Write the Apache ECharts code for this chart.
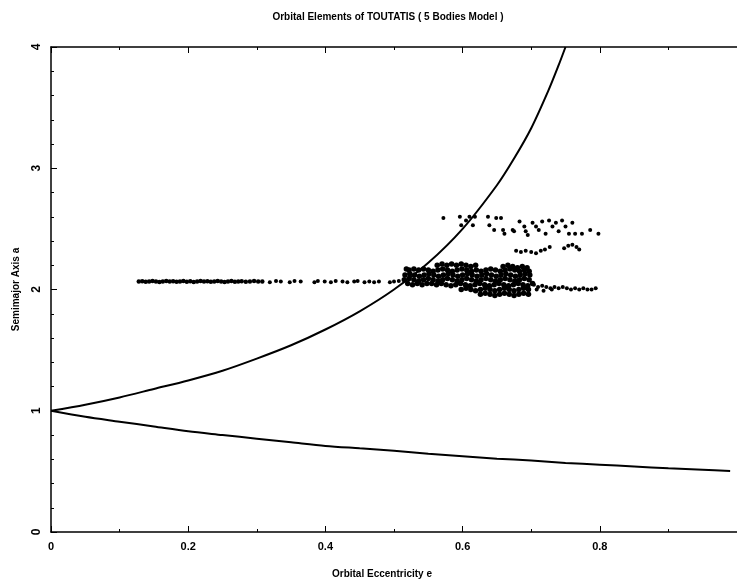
<!DOCTYPE html>
<html>
<head>
<meta charset="utf-8">
<script src="https://cdn.jsdelivr.net/npm/echarts@6/dist/echarts.min.js"></script>
<style>
  html, body { margin: 0; padding: 0; background: #fff; }
  #chart { width: 737px; height: 585px; }
</style>
</head>
<body>
<div id="chart"></div>
<script>
// bounding curves (e, a)
const upperE = [0, 0.05, 0.1, 0.15, 0.2, 0.25, 0.3, 0.35, 0.4, 0.45, 0.5, 0.55, 0.6, 0.65, 0.675, 0.7, 0.725, 0.74, 0.75]
const upperA = [1, 1.05, 1.11, 1.18, 1.25, 1.33, 1.43, 1.54, 1.67, 1.82, 2.0, 2.22, 2.5, 2.86, 3.08, 3.33, 3.64, 3.85, 4.0]
const lowerE = [0, 0.05, 0.1, 0.15, 0.2, 0.25, 0.3, 0.35, 0.4, 0.45, 0.5, 0.55, 0.6, 0.65, 0.7, 0.75, 0.8, 0.85, 0.9, 0.95, 0.99]
const lowerA = [1, 0.95, 0.91, 0.87, 0.83, 0.8, 0.77, 0.74, 0.71, 0.69, 0.67, 0.645, 0.625, 0.605, 0.59, 0.57, 0.555, 0.54, 0.525, 0.513, 0.503]

// integrated orbit samples [e, a]
const flatBand = [
  [0.128, 2.065], [0.133, 2.068], [0.138, 2.063], [0.143, 2.066], [0.148, 2.07], [0.153, 2.065],
  [0.158, 2.062], [0.163, 2.067], [0.168, 2.07], [0.173, 2.065], [0.178, 2.068], [0.183, 2.063],
  [0.188, 2.066], [0.193, 2.07], [0.198, 2.064], [0.203, 2.068], [0.208, 2.062], [0.213, 2.066],
  [0.218, 2.07], [0.223, 2.065], [0.228, 2.068], [0.233, 2.063], [0.238, 2.066], [0.243, 2.07],
  [0.248, 2.065], [0.253, 2.062], [0.258, 2.067], [0.263, 2.07], [0.268, 2.064], [0.273, 2.066],
  [0.278, 2.068], [0.284, 2.063], [0.29, 2.066], [0.296, 2.07], [0.302, 2.065], [0.308, 2.067],
]
const sparseDots = [
  [0.319, 2.06], [0.328, 2.07], [0.335, 2.065], [0.348, 2.06], [0.355, 2.07], [0.364, 2.065],
  [0.384, 2.06], [0.389, 2.07], [0.399, 2.065], [0.408, 2.06], [0.415, 2.07], [0.425, 2.065],
  [0.432, 2.06], [0.442, 2.065], [0.447, 2.07], [0.457, 2.06], [0.464, 2.065], [0.471, 2.06],
  [0.478, 2.065], [0.494, 2.06], [0.5, 2.065], [0.507, 2.07],
]
const band220 = [
  [0.563, 2.2], [0.57, 2.21], [0.577, 2.2], [0.584, 2.21], [0.591, 2.2], [0.598, 2.21], [0.605, 2.2],
  [0.612, 2.19], [0.619, 2.2], [0.659, 2.19], [0.666, 2.2], [0.673, 2.19], [0.68, 2.18], [0.687, 2.19], [0.694, 2.18],
]
const band216 = [
  [0.518, 2.17], [0.522, 2.16], [0.529, 2.17], [0.536, 2.16], [0.543, 2.17], [0.55, 2.16], [0.557, 2.15], [0.564, 2.16],
  [0.571, 2.17], [0.578, 2.16], [0.585, 2.15], [0.592, 2.16], [0.599, 2.17], [0.606, 2.16], [0.613, 2.15],
  [0.62, 2.16], [0.627, 2.15], [0.634, 2.16], [0.641, 2.17], [0.648, 2.16], [0.655, 2.15], [0.662, 2.16],
  [0.669, 2.17], [0.676, 2.16], [0.683, 2.15], [0.69, 2.16], [0.697, 2.15],
]
const band212 = [
  [0.516, 2.12], [0.523, 2.13], [0.53, 2.12], [0.537, 2.11], [0.544, 2.12], [0.551, 2.13], [0.558, 2.12],
  [0.565, 2.11], [0.572, 2.12], [0.579, 2.13], [0.586, 2.12], [0.593, 2.11], [0.6, 2.12], [0.607, 2.13],
  [0.614, 2.12], [0.621, 2.11], [0.628, 2.12], [0.635, 2.13], [0.642, 2.12], [0.649, 2.11], [0.656, 2.12],
  [0.663, 2.13], [0.67, 2.12], [0.677, 2.11], [0.684, 2.12], [0.691, 2.13], [0.698, 2.12],
]
const band208 = [
  [0.515, 2.08], [0.522, 2.09], [0.529, 2.08], [0.536, 2.07], [0.543, 2.08], [0.55, 2.09], [0.557, 2.08],
  [0.564, 2.07], [0.571, 2.08], [0.578, 2.09], [0.585, 2.08], [0.592, 2.07], [0.599, 2.08], [0.606, 2.09],
  [0.613, 2.08], [0.62, 2.07], [0.627, 2.08], [0.634, 2.09], [0.641, 2.08], [0.648, 2.07], [0.655, 2.08],
  [0.662, 2.09], [0.669, 2.08], [0.676, 2.07], [0.683, 2.08], [0.69, 2.09], [0.697, 2.08],
]
const band204 = [
  [0.52, 2.05], [0.527, 2.04], [0.534, 2.05], [0.541, 2.04], [0.548, 2.05], [0.555, 2.05], [0.562, 2.04], [0.569, 2.05],
  [0.576, 2.04], [0.583, 2.03], [0.59, 2.04], [0.597, 2.05], [0.604, 2.04], [0.611, 2.03], [0.618, 2.04],
  [0.625, 2.05], [0.632, 2.04], [0.639, 2.03], [0.646, 2.04], [0.653, 2.05], [0.66, 2.04], [0.667, 2.03],
  [0.674, 2.04], [0.681, 2.05], [0.688, 2.04], [0.695, 2.03], [0.702, 2.05],
]
const band200 = [
  [0.598, 2.0], [0.605, 2.01], [0.612, 2.0], [0.619, 1.99], [0.626, 2.0], [0.633, 2.01], [0.64, 2.0],
  [0.647, 1.99], [0.654, 2.0], [0.661, 2.01], [0.668, 2.0], [0.675, 1.99], [0.682, 2.0], [0.689, 2.01], [0.696, 2.0],
]
const band196 = [
  [0.626, 1.96], [0.633, 1.97], [0.64, 1.96], [0.647, 1.95], [0.654, 1.96], [0.661, 1.97],
  [0.668, 1.96], [0.675, 1.95], [0.682, 1.96], [0.689, 1.97], [0.696, 1.96],
]
const tailDots = [
  [0.704, 2.04], [0.71, 2.02], [0.716, 2.03], [0.722, 2.02], [0.728, 2.01], [0.734, 2.02], [0.74, 2.01],
  [0.746, 2.02], [0.752, 2.01], [0.758, 2.0], [0.764, 2.01], [0.77, 2.0], [0.776, 2.01], [0.782, 2.0],
  [0.788, 2.0], [0.794, 2.01], [0.708, 2.0], [0.718, 1.99], [0.73, 2.0],
]
const middleDots = [
  [0.678, 2.32], [0.685, 2.31], [0.692, 2.32], [0.7, 2.31], [0.707, 2.3], [0.714, 2.32], [0.72, 2.33],
  [0.727, 2.35], [0.748, 2.34], [0.754, 2.36], [0.76, 2.37], [0.766, 2.35], [0.77, 2.33],
]
const upperDots = [
  [0.572, 2.59], [0.596, 2.6], [0.598, 2.53], [0.605, 2.57], [0.61, 2.6], [0.615, 2.53], [0.618, 2.6],
  [0.637, 2.6], [0.639, 2.53], [0.646, 2.49], [0.649, 2.59], [0.656, 2.59], [0.659, 2.49], [0.661, 2.46],
  [0.673, 2.49], [0.675, 2.48], [0.683, 2.56], [0.69, 2.52], [0.692, 2.48], [0.695, 2.45], [0.702, 2.55],
  [0.707, 2.52], [0.711, 2.49], [0.716, 2.56], [0.721, 2.46], [0.726, 2.57], [0.731, 2.52], [0.736, 2.55],
  [0.74, 2.48], [0.745, 2.57], [0.75, 2.52], [0.755, 2.46], [0.76, 2.55], [0.764, 2.46], [0.774, 2.46],
  [0.786, 2.49], [0.798, 2.46],
]

const xTicks = { min: 0, max: 1, interval: 0.2 }
const yTicks = { min: 0, max: 4, interval: 1 }

const FONT = 'Liberation Sans'
const INK = '#000'

const cluster = [].concat(band220, band216, band212, band208, band204, band200, band196)
const scattered = [].concat(sparseDots, tailDots, middleDots, upperDots)

const chart = echarts.init(document.getElementById('chart'), null, { renderer: 'canvas' })

const xAxisBase = {
  type: 'value',
  min: xTicks.min,
  max: xTicks.max,
  interval: xTicks.interval,
  axisLine: { show: true, onZero: false, lineStyle: { color: INK, width: 1.5 } },
  axisTick: { show: true, inside: true, length: 6, lineStyle: { color: INK, width: 1 } },
  minorTick: { show: true, splitNumber: 2, length: 3, lineStyle: { color: INK, width: 1 } },
  splitLine: { show: false },
}

const dotStyle = { color: INK, opacity: 1 }

chart.setOption({
  animation: false,
  backgroundColor: '#fff',
  title: {
    text: 'Orbital Elements of TOUTATIS ( 5 Bodies Model )',
    left: 383,
    top: 7,
    textAlign: 'center',
    textStyle: { fontFamily: FONT, fontSize: 10, fontWeight: 'bold', color: INK },
  },
  grid: { left: 51, top: 47, width: 692, height: 485 },
  xAxis: [
    Object.assign({}, xAxisBase, {
      position: 'bottom',
      name: 'Orbital Eccentricity e',
      nameLocation: 'middle',
      nameGap: 37,
      nameTextStyle: { fontFamily: FONT, fontSize: 10, fontWeight: 'bold', color: INK, padding: [0, 24, 0, 0] },
      axisLabel: { show: true, margin: 9, showMaxLabel: false, fontFamily: FONT, fontSize: 11, fontWeight: 'bold', color: INK },
    }),
    Object.assign({}, xAxisBase, {
      position: 'top',
      axisLabel: { show: false },
    }),
  ],
  yAxis: {
    type: 'value',
    min: yTicks.min,
    max: yTicks.max,
    interval: yTicks.interval,
    position: 'left',
    name: 'Semimajor Axis a',
    nameLocation: 'middle',
    nameGap: 30,
    nameRotate: 90,
    nameTextStyle: { fontFamily: FONT, fontSize: 10, fontWeight: 'bold', color: INK },
    axisLine: { show: true, lineStyle: { color: INK, width: 1.5 } },
    axisTick: { show: true, inside: true, length: 6, lineStyle: { color: INK, width: 1 } },
    minorTick: { show: true, splitNumber: 5, length: 3, lineStyle: { color: INK, width: 1 } },
    splitLine: { show: false },
    axisLabel: { rotate: 90, margin: 8, fontFamily: FONT, fontSize: 12, fontWeight: 'bold', color: INK },
  },
  series: [
    {
      name: 'upper',
      type: 'line',
      data: upperE.map((e, i) => [e, upperA[i]]),
      smooth: 0.3,
      showSymbol: false,
      lineStyle: { color: INK, width: 2 },
    },
    {
      name: 'lower',
      type: 'line',
      data: lowerE.map((e, i) => [e, lowerA[i]]),
      smooth: 0.3,
      showSymbol: false,
      lineStyle: { color: INK, width: 2 },
    },
    {
      name: 'flat',
      type: 'scatter',
      data: flatBand,
      symbol: 'circle',
      symbolSize: 4.5,
      itemStyle: dotStyle,
    },
    {
      name: 'cluster',
      type: 'scatter',
      data: cluster,
      symbol: 'circle',
      symbolSize: 5.5,
      itemStyle: dotStyle,
    },
    {
      name: 'scattered',
      type: 'scatter',
      data: scattered,
      symbol: 'circle',
      symbolSize: 4,
      itemStyle: dotStyle,
    },
  ],
})
</script>
</body>
</html>
